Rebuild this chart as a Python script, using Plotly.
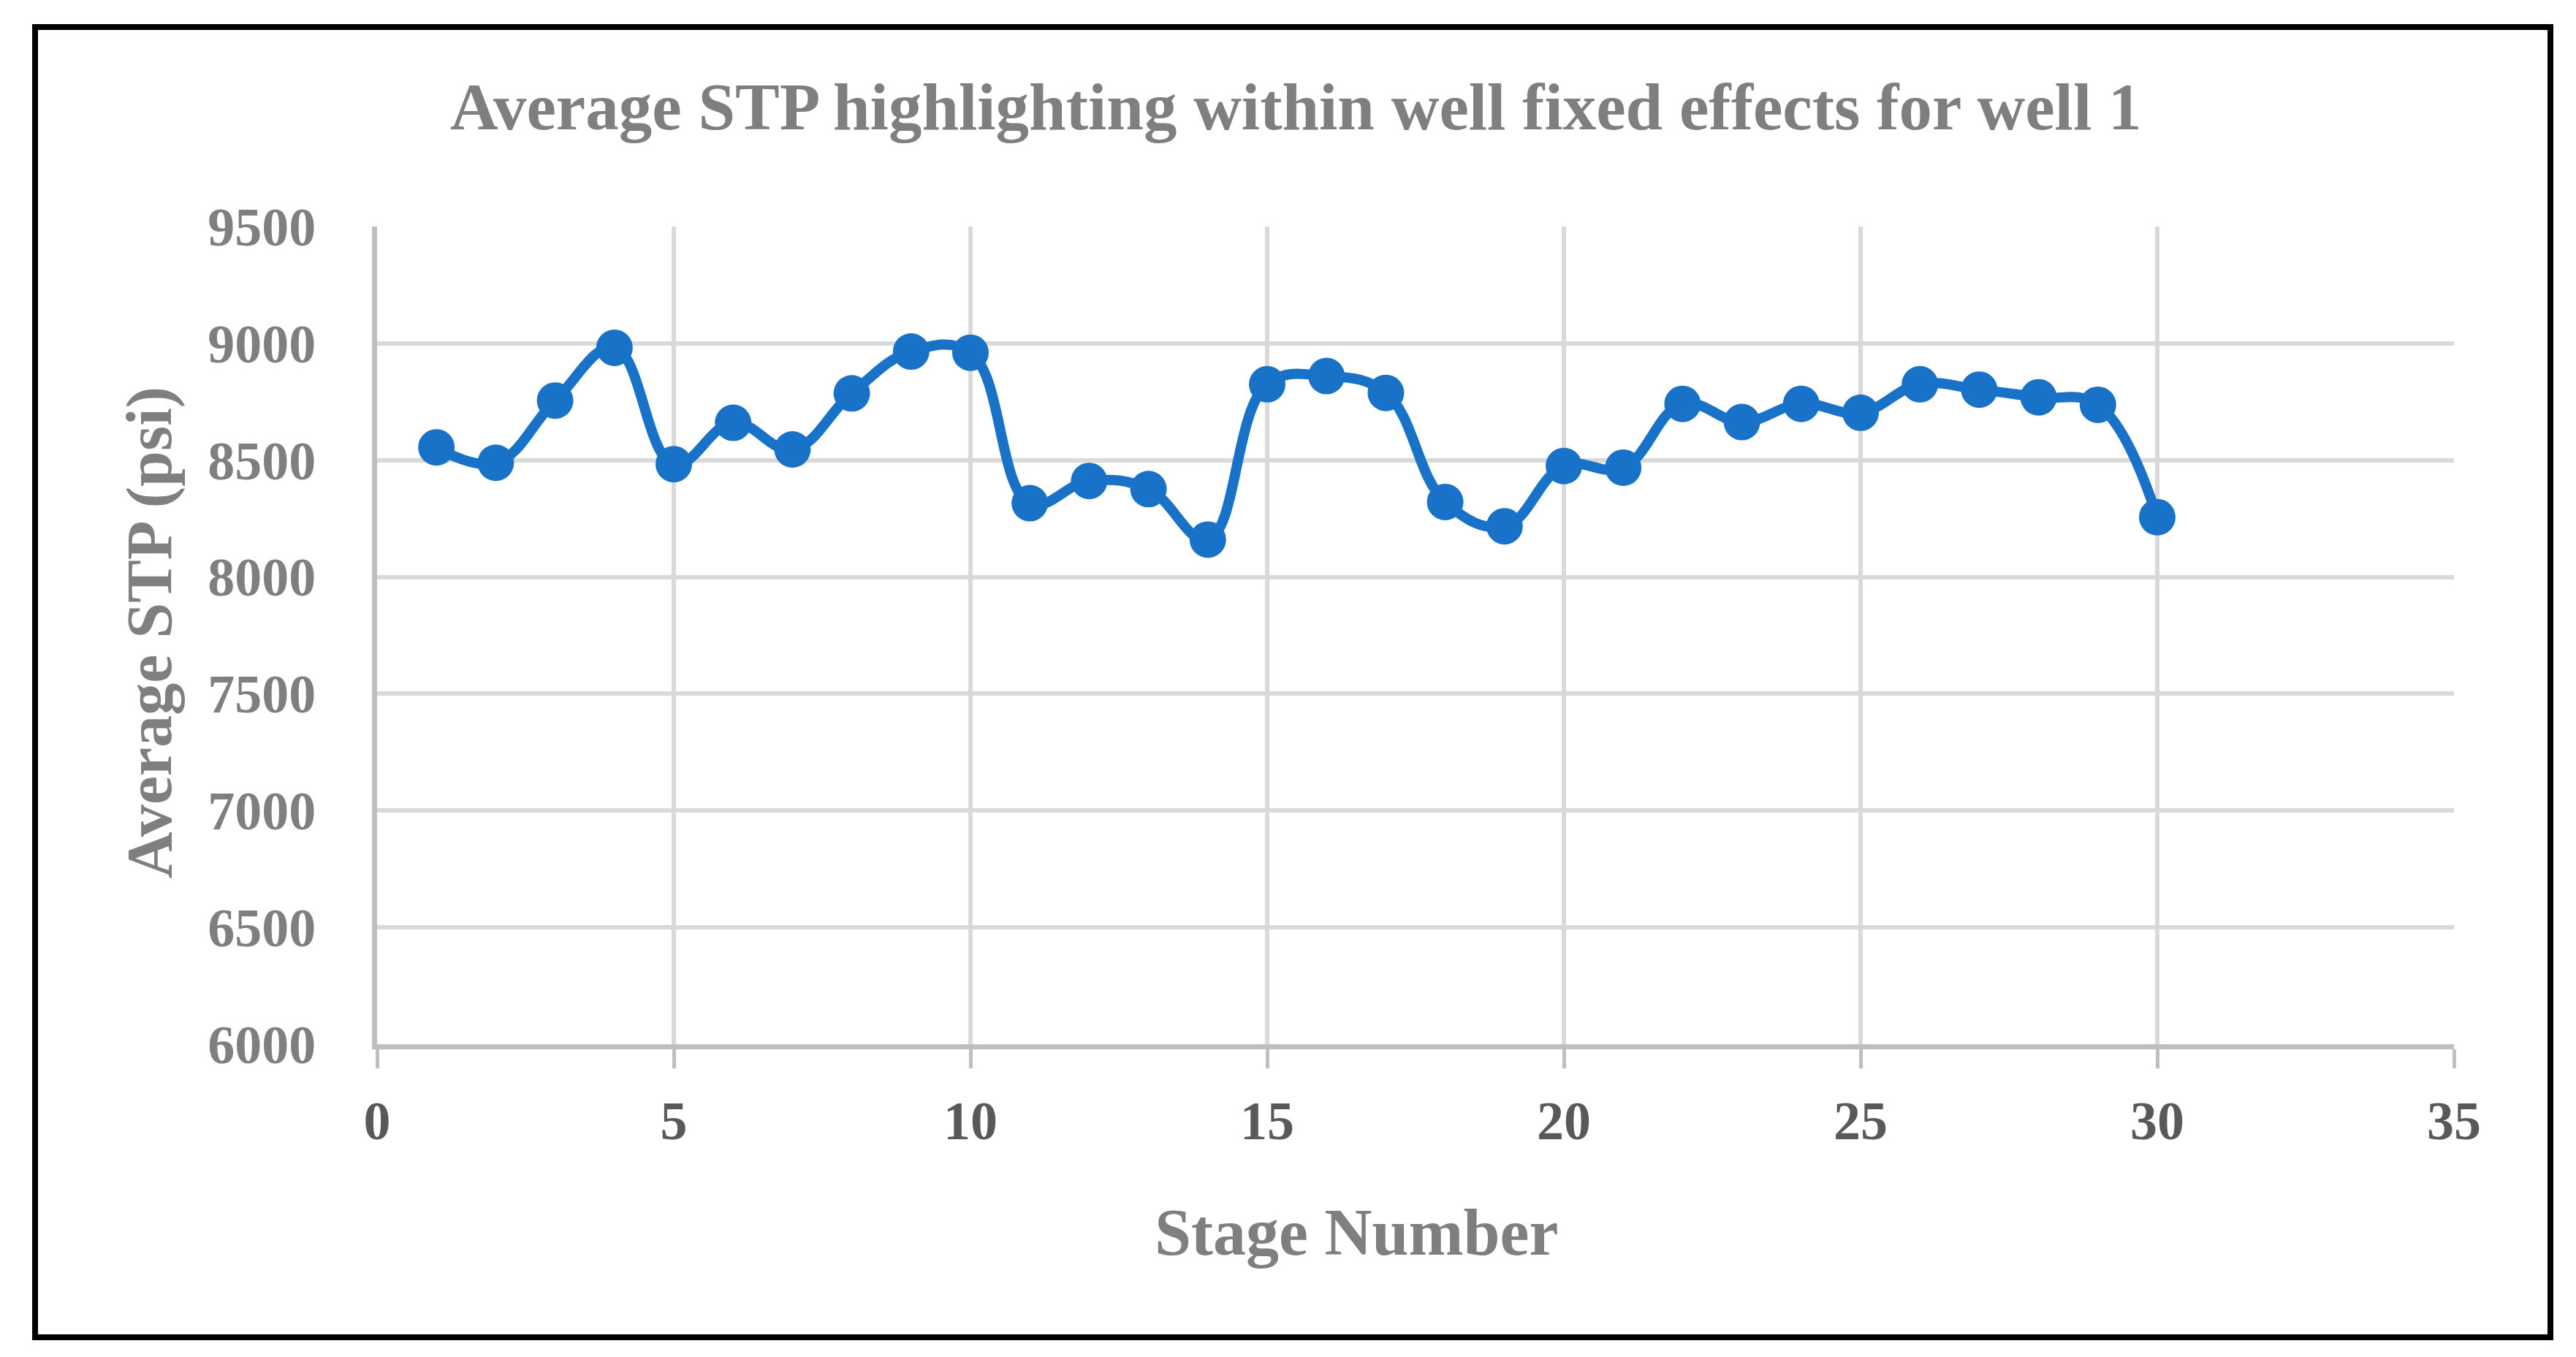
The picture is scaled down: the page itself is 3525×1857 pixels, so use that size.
import plotly.graph_objects as go

stages = list(range(1, 31))
avg_stp = [8555, 8489, 8755, 8981, 8483, 8660, 8546, 8786, 8965, 8960,
           8316, 8411, 8376, 8160, 8825, 8860, 8788, 8321, 8217, 8475,
           8468, 8741, 8663, 8741, 8703, 8825, 8802, 8769, 8737, 8256]

title_text = "Average STP highlighting within well fixed effects for well 1"
x_title = "Stage Number"
y_title = "Average STP (psi)"
x_ticks = [0, 5, 10, 15, 20, 25, 30, 35]
y_ticks = [6000, 6500, 7000, 7500, 8000, 8500, 9000, 9500]

W, H = 3525, 1857
L, R, T, B = 508, 3350, 302, 1421  # plot area pixel bounds
pw, ph = R - L, B - T

def px(x):
    return (x - L) / pw

def py(y):
    return (B - y) / ph

FONT = "Liberation Serif"
GRAY = "#7f7f7f"

fig = go.Figure()
fig.add_trace(go.Scatter(
    x=stages, y=avg_stp, mode="lines+markers",
    line=dict(color="#1872C7", width=14, shape="spline", smoothing=1.15),
    marker=dict(color="#1872C7", size=50),
    showlegend=False, cliponaxis=False,
))

fig.update_layout(
    width=W, height=H,
    margin=dict(l=L, r=W - R, t=T, b=H - B, pad=0),
    paper_bgcolor="white", plot_bgcolor="white",
    xaxis=dict(range=[0, 35], tickvals=x_ticks, showgrid=True, gridcolor="#d9d9d9", gridwidth=6,
               zeroline=False, showline=True, linecolor="#bfbfbf", linewidth=7,
               ticks="outside", ticklen=26, tickwidth=5, tickcolor="#bfbfbf",
               tickfont=dict(family=FONT, size=74, color="#595959", weight="bold"),
               ticklabelstandoff=8),
    yaxis=dict(range=[6000, 9500], tickvals=y_ticks, showgrid=True, gridcolor="#d9d9d9", gridwidth=6,
               zeroline=False, showline=True, linecolor="#bfbfbf", linewidth=7, ticks="",
               tickfont=dict(family=FONT, size=74, color=GRAY, weight="bold"),
               ticklabelstandoff=62),
)

fig.add_shape(type="rect", xref="paper", yref="paper",
              x0=px(40), x1=px(3482), y0=py(1822), y1=py(29),
              line=dict(color="black", width=8), layer="below")

fig.add_annotation(text=title_text, xref="paper", yref="paper",
                   x=px(1765), y=py(138), xanchor="center", yanchor="middle", showarrow=False,
                   font=dict(family=FONT, size=91, color=GRAY, weight="bold"))
fig.add_annotation(text=x_title, xref="paper", yref="paper",
                   x=px(1848), y=py(1678), xanchor="center", yanchor="middle", showarrow=False,
                   font=dict(family=FONT, size=90, color=GRAY, weight="bold"))
fig.add_annotation(text=y_title, xref="paper", yref="paper",
                   x=px(196), y=py(858), xanchor="center", yanchor="middle", showarrow=False,
                   textangle=-90,
                   font=dict(family=FONT, size=88, color=GRAY, weight="bold"))

fig.write_html("out.html")
